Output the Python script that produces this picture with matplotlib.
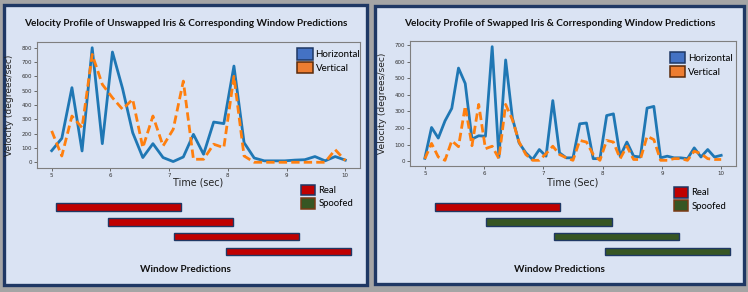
import matplotlib
matplotlib.use("Agg")
import matplotlib.pyplot as plt
from matplotlib.patches import Rectangle, Patch
import numpy as np

# ---- data ----
# unswapped iris: 30 samples between 5 and 10 s
t_unswapped = np.linspace(5, 10, 30)
horiz_unswapped = [81, 167, 521, 79, 800, 130, 770, 515, 207, 33,
                   130, 33, 5, 37, 195, 56, 281, 270, 672, 137,
                   30, 10, 10, 10, 15, 18, 40, 10, 40, 15]
vert_unswapped = [219, 44, 323, 242, 753, 544, 451, 370, 440, 102,
                  323, 114, 230, 567, 21, 21, 126, 102, 600, 44,
                  0, 0, 0, 0, 0, 0, 0, 0, 88, 12]

# swapped iris: 45 samples between 5 and 10 s
t_swapped = np.linspace(5, 10, 45)
horiz_swapped = [17, 203, 139, 243, 318, 561, 468, 133, 153, 150,
                 690, 24, 610, 260, 110, 50, 10, 70, 30, 365,
                 50, 20, 20, 225, 230, 15, 15, 275, 285, 30,
                 115, 30, 25, 320, 330, 20, 30, 20, 20, 15,
                 80, 25, 70, 25, 35]
vert_swapped = [14, 107, 25, 5, 123, 87, 332, 93, 342, 75,
                90, 15, 342, 250, 115, 40, 5, 5, 45, 90,
                40, 20, 5, 125, 115, 40, 5, 125, 115, 15,
                90, 10, 10, 150, 130, 5, 5, 15, 15, 5,
                60, 45, 15, 10, 10]

# window predictions (start time, length in sec, label)
win_start_unswapped = [5.08, 5.96, 7.09, 7.97]
win_len_unswapped = [2.12, 2.12, 2.12, 2.12]
win_pred_unswapped = ["Real", "Real", "Real", "Real"]

win_start_swapped = [5.17, 6.04, 7.18, 8.04]
win_len_swapped = [2.11, 2.11, 2.11, 2.11]
win_pred_swapped = ["Real", "Spoofed", "Spoofed", "Spoofed"]

titles = ["Velocity Profile of Unswapped Iris & Corresponding Window Predictions",
          "Velocity Profile of Swapped Iris & Corresponding Window Predictions"]
xlabels = ["Time (sec)", "Time (Sec)"]

# ---- style ----
W, H = 748, 292
BG = "#a5a5a5"
PANEL = "#dae3f3"
NAVY = "#1f3864"
RED = "#c00000"
GREEN = "#375623"
pred_color = {"Real": RED, "Spoofed": GREEN}
TITLE_FONT = ["Lato", "DejaVu Sans"]


def box(x0, y0, x1, y1):
    # pixel box (top-left origin) -> figure fraction rect
    return [x0 / W, 1 - y1 / H, (x1 - x0) / W, (y1 - y0) / H]


fig = plt.figure(figsize=(W / 100, H / 100), dpi=100, facecolor=BG)

panels = [
    dict(rect=(4, 5, 367, 285), ax=(37, 42, 360, 168), bars=(37, 195.2, 360, 263.3),
         leg1=(297, 48.5), leg2=(300.7, 184.5), ylab=13.5,
         t=t_unswapped, h=horiz_unswapped, v=vert_unswapped,
         ws=win_start_unswapped, wl=win_len_unswapped, wp=win_pred_unswapped),
    dict(rect=(375, 6, 744, 284), ax=(410, 41, 736, 166), bars=(410, 195.2, 736, 263.3),
         leg1=(669.7, 52), leg2=(673.7, 187), ylab=387,
         t=t_swapped, h=horiz_swapped, v=vert_swapped,
         ws=win_start_swapped, wl=win_len_swapped, wp=win_pred_swapped),
]

for i, p in enumerate(panels):
    x0, y0, x1, y1 = p["rect"]
    r = box(x0, y0, x1, y1)
    fig.add_artist(Rectangle((r[0], r[1]), r[2], r[3], transform=fig.transFigure,
                             facecolor=PANEL, edgecolor=NAVY, linewidth=2.4, zorder=0))
    cx = (x0 + x1) / 2
    fig.text(cx / W, 1 - 24 / H, titles[i], ha="center", va="center",
             fontsize=7.2, fontweight="bold", family=TITLE_FONT, color="#111111")

    # velocity plot
    ax = fig.add_axes(box(*p["ax"]))
    ax.set_facecolor(PANEL)
    ax.plot(p["t"], p["h"], color="#1f77b4", lw=2.0)
    ax.plot(p["t"], p["v"], color="#ff7f0e", lw=2.0, ls=(0, (3.0, 1.5)))
    ax.set_xlim(4.75, 10.25)
    ax.margins(y=0.05)
    for s in ax.spines.values():
        s.set_color("#7f7f7f")
        s.set_linewidth(0.8)
    ax.tick_params(labelsize=4, length=2, width=0.6, color="#555555",
                   labelcolor="#333333", pad=1.5)
    ax.set_ylabel("Velocity (degrees/sec)", fontsize=6.6, color="#222222")
    ax.yaxis.set_label_coords(-(p["ax"][0] - p["ylab"]) / (p["ax"][2] - p["ax"][0]), 0.5)
    lx, ly = p["leg1"]
    ax.legend(handles=[Patch(facecolor="#4472c4", edgecolor=NAVY, lw=1.1, label="Horizontal"),
                       Patch(facecolor="#ed7d31", edgecolor="#5a2a0a", lw=1.1, label="Vertical")],
              loc="upper left", bbox_to_anchor=(lx / W, 1 - ly / H),
              bbox_transform=fig.transFigure, frameon=False, borderpad=0, borderaxespad=0,
              prop={"family": TITLE_FONT, "size": 7.0}, handlelength=1.6, handleheight=1.4,
              labelspacing=0.25, handletextpad=0.3)

    fig.text((p["ax"][0] + p["ax"][2]) / 2 / W, 1 - 182.5 / H, xlabels[i],
             ha="center", va="center", fontsize=6.9, color="#222222")

    # window predictions
    bx = fig.add_axes(box(*p["bars"]))
    bx.axis("off")
    rows = np.arange(len(p["ws"]))
    bx.barh(rows, p["wl"], left=p["ws"], height=0.5,
            color=[pred_color[k] for k in p["wp"]], edgecolor=NAVY, linewidth=1.0)
    bx.set_xlim(4.75, 10.25)
    bx.set_ylim(3.8, -0.8)
    lx, ly = p["leg2"]
    bx.legend(handles=[Patch(facecolor=RED, edgecolor=NAVY, lw=1.1, label="Real"),
                       Patch(facecolor=GREEN, edgecolor="#7a3a14", lw=1.1, label="Spoofed")],
              loc="upper left", bbox_to_anchor=(lx / W, 1 - ly / H),
              bbox_transform=fig.transFigure, frameon=False, borderpad=0, borderaxespad=0,
              prop={"family": TITLE_FONT, "size": 6.8}, handlelength=1.5, handleheight=1.35,
              labelspacing=0.3, handletextpad=0.35)
    fig.text(cx / W, 1 - 270 / H, "Window Predictions", ha="center", va="center",
             fontsize=7.2, fontweight="bold", family=TITLE_FONT, color="#111111")

fig.savefig("out.png", dpi=100, facecolor=BG)
